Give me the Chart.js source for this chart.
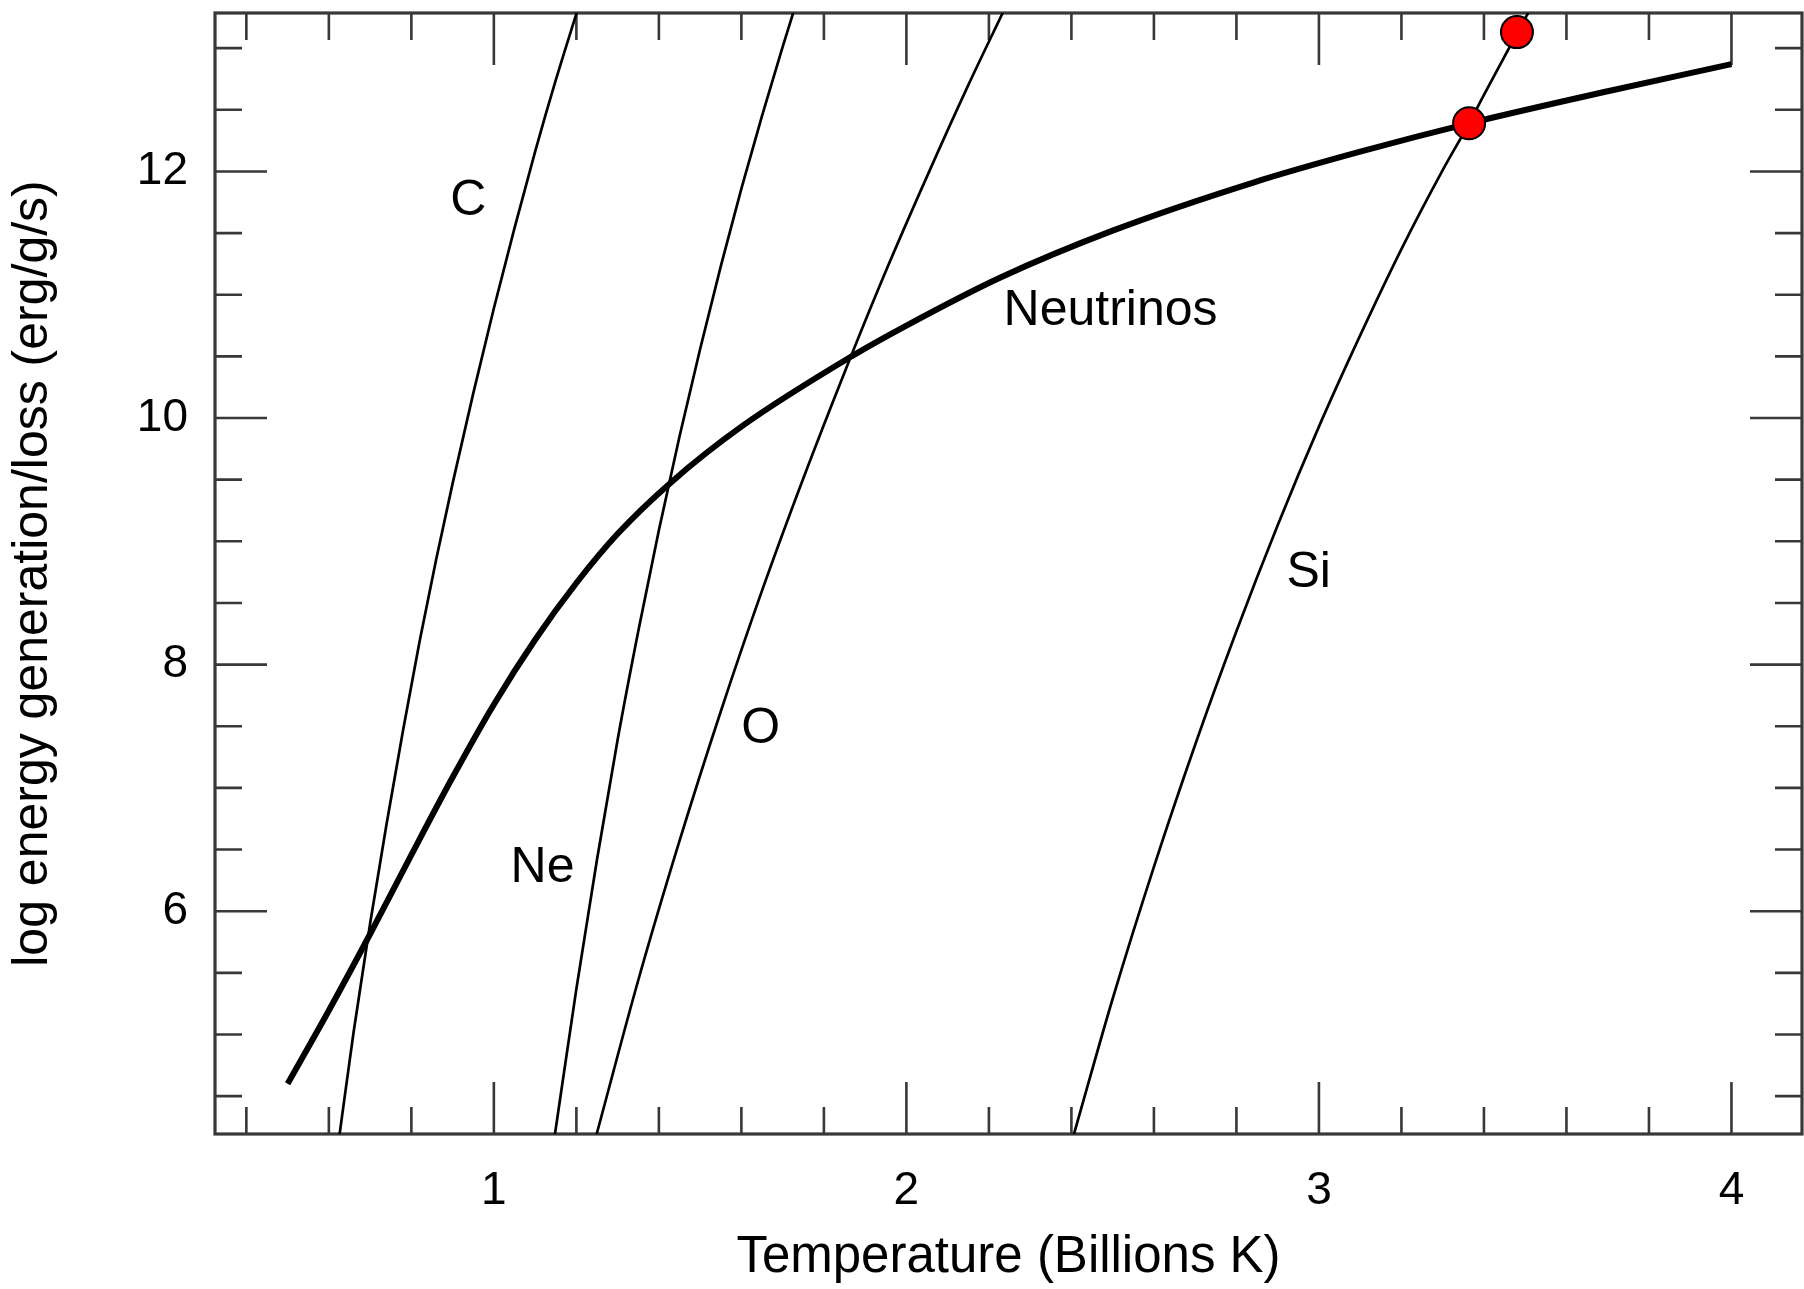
<!DOCTYPE html>
<html>
<head>
<meta charset="utf-8">
<title>Energy generation vs neutrino losses</title>
<script src="https://cdn.jsdelivr.net/npm/chart.js@4.4.1/dist/chart.umd.min.js"></script>
<style>
  html, body { margin: 0; padding: 0; background: #fff; }
</style>
</head>
<body>
<canvas id="burnChart" width="1804" height="1289"></canvas>
<script>
// ===========================
// Data
// T in billions K, values are log10 erg/g/s
// ===========================
const carbonT   = [0.626, 0.66, 0.70, 0.74, 0.78, 0.82, 0.86, 0.90, 0.95, 1.00, 1.05, 1.10, 1.15, 1.201];
const carbonLog = [4.19, 5.02, 5.90, 6.71, 7.47, 8.19, 8.85, 9.47, 10.20, 10.89, 11.54, 12.16, 12.74, 13.29];

const neonT   = [1.148, 1.20, 1.25, 1.30, 1.35, 1.40, 1.45, 1.50, 1.55, 1.60, 1.65, 1.70, 1.726];
const neonLog = [4.19, 5.37, 6.42, 7.39, 8.27, 9.09, 9.85, 10.56, 11.23, 11.86, 12.45, 13.01, 13.29];

const oxygenT   = [1.249, 1.35, 1.45, 1.55, 1.65, 1.75, 1.85, 1.95, 2.05, 2.15, 2.234];
const oxygenLog = [4.19, 5.44, 6.57, 7.62, 8.60, 9.51, 10.37, 11.19, 11.96, 12.70, 13.29];

const siliconT   = [2.406, 2.50, 2.60, 2.70, 2.80, 2.90, 3.00, 3.10, 3.20, 3.30, 3.364, 3.40, 3.48, 3.508];
const siliconLog = [4.19, 5.29, 6.36, 7.35, 8.27, 9.13, 9.93, 10.67, 11.37, 12.01, 12.39, 12.62, 13.12, 13.29];

const neutrinoT   = [0.50, 0.60, 0.70, 0.80, 0.90, 1.00, 1.10, 1.20, 1.30, 1.43, 1.60, 1.867, 2.00, 2.228, 2.50, 2.841, 3.10, 3.364, 3.70, 4.00];
const neutrinoLog = [4.60, 5.195, 5.815, 6.457, 7.086, 7.677, 8.202, 8.662, 9.061, 9.48, 9.93, 10.50, 10.75, 11.14, 11.52, 11.91, 12.16, 12.39, 12.65, 12.87];

// red markers
const dotT   = [3.364, 3.48];
const dotLog = [12.39, 13.13];

// curve labels (centre of the text)
const labelText = ["C", "Ne", "O", "Si", "Neutrinos"];
const labelT    = [0.938, 1.118, 1.647, 2.975, 2.495];
const labelLog  = [11.76, 6.35, 7.48, 8.74, 10.87];

// axes
const xTickLabels = [1, 2, 3, 4];
const yTickLabels = [6, 8, 10, 12];

const FONT = "'Liberation Sans', Arial, Helvetica, sans-serif";
const INK = "#383838";

function toPoints(xs, ys) {
    return xs.map((x, i) => ({ x: x, y: ys[i] }));
}

// no extra room for half labels, the plot box is fixed
function noLabelPadding(scale) {
    scale.paddingTop = 0;
    scale.paddingBottom = 0;
    scale.paddingLeft = 0;
    scale.paddingRight = 0;
}

// ===========================
// Frame + inward ticks on the four sides
// ===========================
const frameTicks = {
    id: "frameTicks",
    beforeDatasetsDraw(chart) {
        const { ctx, chartArea: a, scales } = chart;
        const xs = scales.x, ys = scales.y;
        ctx.save();
        ctx.strokeStyle = INK;
        ctx.lineWidth = 2.6;
        ctx.lineCap = "butt";

        for (let v = 0.4; v <= 4.001; v += 0.2) {
            const major = Math.abs(v - Math.round(v)) < 1e-6;
            const len = major ? 52 : 27;
            const px = xs.getPixelForValue(v);
            ctx.beginPath();
            ctx.moveTo(px, a.bottom); ctx.lineTo(px, a.bottom - len);
            ctx.moveTo(px, a.top); ctx.lineTo(px, a.top + len);
            ctx.stroke();
        }
        for (let v = 4.5; v <= 13.001; v += 0.5) {
            const major = yTickLabels.includes(v);
            const len = major ? 52 : 27;
            const py = ys.getPixelForValue(v);
            ctx.beginPath();
            ctx.moveTo(a.left, py); ctx.lineTo(a.left + len, py);
            ctx.moveTo(a.right, py); ctx.lineTo(a.right - len, py);
            ctx.stroke();
        }

        ctx.lineWidth = 3.2;
        ctx.strokeRect(a.left, a.top, a.right - a.left, a.bottom - a.top);
        ctx.restore();
    },
    afterDatasetsDraw(chart) {
        const { ctx, scales } = chart;
        ctx.save();
        ctx.fillStyle = "#000";
        ctx.font = "50px " + FONT;
        ctx.textAlign = "center";
        ctx.textBaseline = "middle";
        labelText.forEach((txt, i) => {
            ctx.fillText(txt, scales.x.getPixelForValue(labelT[i]), scales.y.getPixelForValue(labelLog[i]));
        });
        ctx.restore();
    }
};

// ===========================
// Chart
// ===========================
Chart.defaults.font.family = FONT;
Chart.defaults.color = "#000";

const thin = {
    type: "line",
    borderColor: "#000",
    borderWidth: 2.7,
    pointRadius: 0,
    fill: false,
    cubicInterpolationMode: "monotone",
    order: 2
};

const ctx = document.getElementById("burnChart").getContext("2d");

new Chart(ctx, {
    type: "line",
    data: {
        datasets: [
            {
                label: "markers",
                type: "scatter",
                data: toPoints(dotT, dotLog),
                pointRadius: 16,
                pointBackgroundColor: "#ff0000",
                pointBorderColor: "#000",
                pointBorderWidth: 2,
                showLine: false,
                clip: false,
                order: 0
            },
            {
                label: "Neutrinos",
                data: toPoints(neutrinoT, neutrinoLog),
                borderColor: "#000",
                borderWidth: 6,
                pointRadius: 0,
                fill: false,
                cubicInterpolationMode: "monotone",
                order: 1
            },
            Object.assign({ label: "C", data: toPoints(carbonT, carbonLog) }, thin),
            Object.assign({ label: "Ne", data: toPoints(neonT, neonLog) }, thin),
            Object.assign({ label: "O", data: toPoints(oxygenT, oxygenLog) }, thin),
            Object.assign({ label: "Si", data: toPoints(siliconT, siliconLog) }, thin)
        ]
    },
    options: {
        responsive: false,
        animation: false,
        events: [],
        layout: { autoPadding: false, padding: { top: 13, right: 2, left: 0, bottom: 0 } },
        plugins: {
            legend: { display: false },
            tooltip: { enabled: false }
        },
        scales: {
            x: {
                type: "linear",
                min: 0.324,
                max: 4.171,
                afterFit(scale) { scale.height = 155; noLabelPadding(scale); },
                afterBuildTicks(scale) { scale.ticks = xTickLabels.map(v => ({ value: v })); },
                grid: { display: false, drawTicks: false },
                border: { display: false },
                ticks: { font: { size: 46 }, color: "#000", padding: 30, maxRotation: 0, autoSkip: false },
                title: {
                    display: true,
                    text: "Temperature (Billions K)",
                    font: { size: 51 },
                    color: "#000",
                    padding: { top: 0, bottom: 0 }
                }
            },
            y: {
                type: "linear",
                min: 4.193,
                max: 13.285,
                afterFit(scale) { scale.width = 215; noLabelPadding(scale); },
                afterBuildTicks(scale) { scale.ticks = yTickLabels.map(v => ({ value: v })); },
                grid: { display: false, drawTicks: false },
                border: { display: false },
                ticks: { font: { size: 46 }, color: "#000", padding: 27, autoSkip: false },
                title: {
                    display: true,
                    text: "log energy generation/loss (erg/g/s)",
                    font: { size: 50 },
                    color: "#000",
                    padding: { top: 3, bottom: 0 }
                }
            }
        }
    },
    plugins: [frameTicks]
});
</script>
</body>
</html>
